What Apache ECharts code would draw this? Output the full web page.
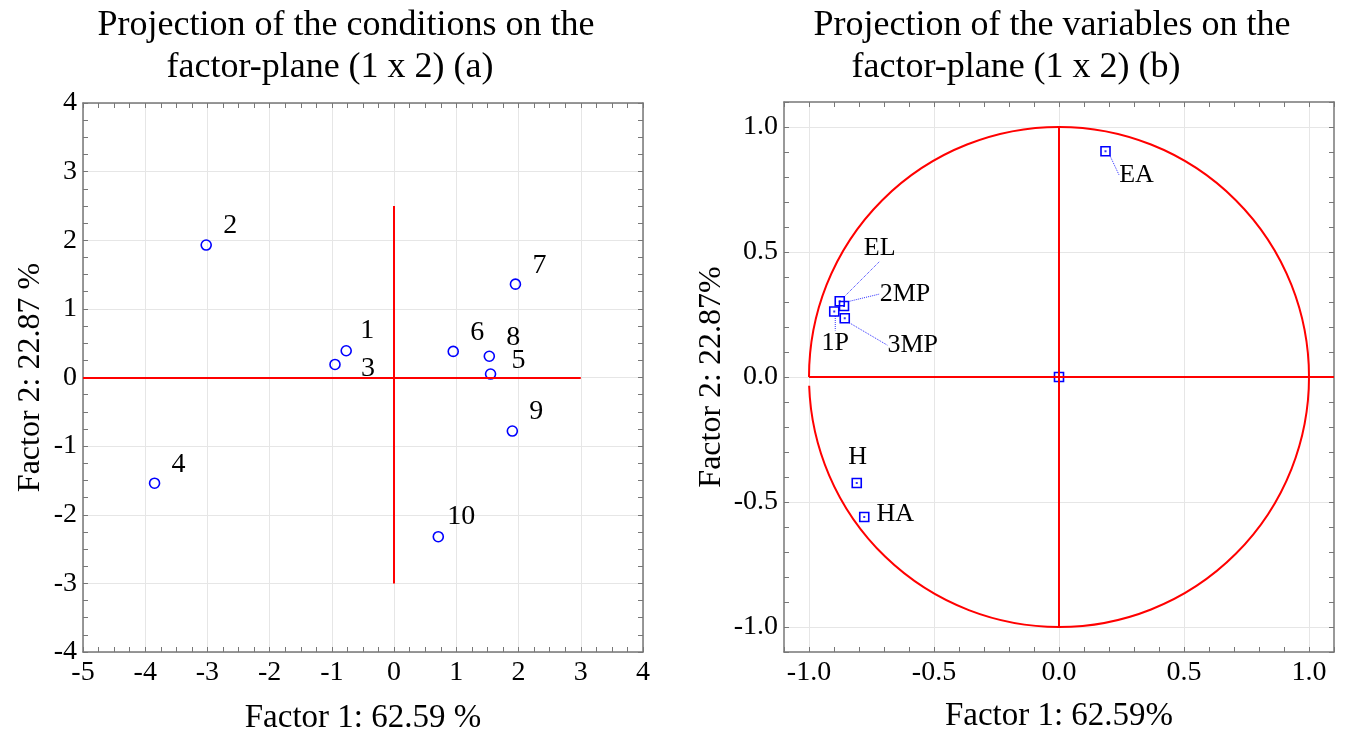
<!DOCTYPE html>
<html>
<head>
<meta charset="utf-8">
<title>Factor-plane projections</title>
<script src="https://cdn.jsdelivr.net/npm/echarts@6/dist/echarts.min.js"></script>
<style>
html, body { margin: 0; padding: 0; background: #fff; }
#chart { width: 1346px; height: 733px; }
</style>
</head>
<body>
<div id="chart"></div>
<script>
// (a) conditions on the factor plane
const conditionNames = ['1', '2', '3', '4', '5', '6', '7', '8', '9', '10'];
const conditionF1 = [-0.77, -3.02, -0.95, -3.85, 1.55, 0.95, 1.95, 1.53, 1.90, 0.71];
const conditionF2 = [0.39, 1.93, 0.19, -1.54, 0.05, 0.38, 1.36, 0.31, -0.78, -2.32];

// (b) variables on the factor plane (last one is the origin marker)
const variableNames = ['EA', 'EL', '2MP', '1P', '3MP', 'H', 'HA', ''];
const variableF1 = [0.186, -0.877, -0.860, -0.899, -0.857, -0.809, -0.779, 0];
const variableF2 = [0.903, 0.303, 0.284, 0.262, 0.235, -0.424, -0.560, 0];

// axis ranges
const leftX = [-5, 4];
const leftY = [-4, 4];
const rightX = [-1.1, 1.1];
const rightY = [-1.1, 1.1];

// red reference lines and correlation circle
const leftAxisLines = [[[-5, 0], [3, 0]], [[0, -3], [0, 2.5]]];
const rightAxisLines = [[[-1, 0], [1.1, 0]], [[0, -1], [0, 1]]];
const unitCircle = [[0, 0, 1]];

// label placement (px from the point)
const condLabelShift = { '1': [21, -20], '3': [33, 4], '5': [28, -13], '10': [23, -20] };
const varLabelShift = {
  EA: [31, 24], EL: [40, -53], '2MP': [61, -12], '1P': [1, 32],
  '3MP': [68, 27], H: [1, -26], HA: [31, -3]
};
const noLeader = ['H', 'HA', ''];

const serif = "'Liberation Serif', 'Times New Roman', serif";
const frameColor = '#777777';
const gridColor = '#e6e6e6';
const blue = '#0000ff';
const red = '#ff0000';
const clear = 'rgba(0,0,0,0)';

function frameAxis(gridIndex, range, interval, position, opts) {
  return Object.assign({
    type: 'value',
    gridIndex: gridIndex,
    position: position,
    min: range[0],
    max: range[1],
    interval: interval,
    axisLine: { show: true, onZero: false, lineStyle: { color: frameColor, width: 1.5 } },
    axisTick: { show: true, inside: true, length: 5, lineStyle: { color: frameColor, width: 1 } },
    axisLabel: { show: false },
    splitLine: { show: false }
  }, opts);
}

function labelEvery(step, digits) {
  return function (v) {
    const k = v / step;
    if (Math.abs(k - Math.round(k)) > 1e-6) return '';
    const r = Math.round(k) * step;
    return (Math.abs(r) < 1e-9 ? 0 : r).toFixed(digits);
  };
}

const tickLabel = (step, digits, margin) => ({
  show: true, margin: margin, color: '#000', fontSize: 28, fontFamily: serif,
  hideOverlap: false, formatter: labelEvery(step, digits)
});

const nameStyle = (size) => ({ color: '#000', fontSize: size, fontFamily: serif });

function crossLines(segs) {
  return {
    silent: true,
    symbol: ['none', 'none'],
    label: { show: false },
    lineStyle: { color: red, width: 2, type: 'solid', opacity: 1 },
    emphasis: { disabled: true },
    data: segs.map(s => [{ coord: s[0] }, { coord: s[1] }])
  };
}

const pointLabel = (size) => ({
  show: true, position: 'inside', formatter: '{b}', color: '#000000',
  fontSize: size, fontFamily: serif, textBorderWidth: 0, opacity: 1
});

const chart = echarts.init(document.getElementById('chart'));

chart.setOption({
  animation: false,
  backgroundColor: '#fff',
  graphic: [
    { type: 'text', x: 346, y: 26, style: { text: 'Projection of the conditions on the', align: 'center', verticalAlign: 'middle', font: '36px ' + serif, fill: '#000' } },
    { type: 'text', x: 330, y: 68, style: { text: 'factor-plane (1 x 2) (a)', align: 'center', verticalAlign: 'middle', font: '36px ' + serif, fill: '#000' } },
    { type: 'text', x: 1052, y: 26, style: { text: 'Projection of the variables on the', align: 'center', verticalAlign: 'middle', font: '36px ' + serif, fill: '#000' } },
    { type: 'text', x: 1016, y: 68, style: { text: 'factor-plane (1 x 2) (b)', align: 'center', verticalAlign: 'middle', font: '36px ' + serif, fill: '#000' } }
  ],
  grid: [
    { left: 83, top: 103, width: 560, height: 549, outerBoundsMode: 'none' },
    { left: 784, top: 102, width: 550, height: 550, outerBoundsMode: 'none' }
  ],
  xAxis: [
    frameAxis(0, leftX, 0.25, 'bottom', {
      axisLabel: tickLabel(1, 0, 7),
      splitLine: { show: true, lineStyle: { color: [gridColor, clear, clear, clear], width: 1 } },
      name: 'Factor 1: 62.59 %', nameLocation: 'middle', nameGap: 50, nameTextStyle: nameStyle(33)
    }),
    frameAxis(0, leftX, 0.25, 'top'),
    frameAxis(1, rightX, 0.1, 'bottom', {
      axisLabel: tickLabel(0.5, 1, 7),
      splitLine: { show: true, lineStyle: { color: [clear, gridColor, clear, clear, clear], width: 1 } },
      name: 'Factor 1: 62.59%', nameLocation: 'middle', nameGap: 48, nameTextStyle: nameStyle(33)
    }),
    frameAxis(1, rightX, 0.1, 'top')
  ],
  yAxis: [
    frameAxis(0, leftY, 0.25, 'left', {
      axisLabel: tickLabel(1, 0, 6),
      splitLine: { show: true, lineStyle: { color: [gridColor, clear, clear, clear], width: 1 } },
      name: 'Factor 2: 22.87 %', nameLocation: 'middle', nameGap: 36, nameTextStyle: nameStyle(32)
    }),
    frameAxis(0, leftY, 0.25, 'right'),
    frameAxis(1, rightY, 0.1, 'left', {
      axisLabel: tickLabel(0.5, 1, 6),
      splitLine: { show: true, lineStyle: { color: [clear, gridColor, clear, clear, clear], width: 1 } },
      name: 'Factor 2: 22.87%', nameLocation: 'middle', nameGap: 56, nameTextStyle: nameStyle(32)
    }),
    frameAxis(1, rightY, 0.1, 'right')
  ],
  series: [
    {
      type: 'scatter',
      xAxisIndex: 0, yAxisIndex: 0,
      z: 3,
      symbol: 'circle',
      symbolSize: 10,
      itemStyle: { color: clear, borderColor: blue, borderWidth: 1.6, opacity: 1 },
      label: pointLabel(28),
      emphasis: { disabled: true },
      data: conditionNames.map((n, i) => ({
        name: n,
        value: [conditionF1[i], conditionF2[i]],
        label: { offset: condLabelShift[n] || [24, -19] }
      })),
      markLine: crossLines(leftAxisLines)
    },
    {
      type: 'custom',
      xAxisIndex: 2, yAxisIndex: 2,
      z: 2,
      silent: true,
      encode: { x: 0, y: 1 },
      renderItem: function (params, api) {
        const c = api.coord([api.value(0), api.value(1)]);
        const e = api.coord([api.value(0) + api.value(2), api.value(1)]);
        const r = e[0] - c[0];
        return {
          type: 'arc',
          shape: { cx: c[0], cy: c[1], r: r, startAngle: Math.PI, endAngle: 3 * Math.PI - 0.035, clockwise: true },
          style: { stroke: red, lineWidth: 2, fill: null }
        };
      },
      data: unitCircle,
      markLine: crossLines(rightAxisLines)
    },
    {
      type: 'scatter',
      xAxisIndex: 2, yAxisIndex: 2,
      z: 3,
      symbol: 'rect',
      symbolSize: 9,
      itemStyle: { color: clear, borderColor: blue, borderWidth: 1.6, opacity: 1 },
      label: pointLabel(26),
      labelLine: { show: true, lineStyle: { color: '#3030ff', width: 1, type: 'dotted' } },
      labelLayout: function (p) {
        const s = varLabelShift[variableNames[p.dataIndex]] || [0, 0];
        return { dx: s[0], dy: s[1] };
      },
      emphasis: { disabled: true },
      data: variableNames.map((n, i) => ({
        name: n,
        value: [variableF1[i], variableF2[i]],
        label: { show: n !== '' },
        labelLine: { show: noLeader.indexOf(n) < 0 }
      }))
    },
    {
      type: 'scatter',
      xAxisIndex: 2, yAxisIndex: 2,
      z: 4,
      silent: true,
      symbol: 'rect',
      symbolSize: 2,
      itemStyle: { color: blue },
      data: variableNames.map((n, i) => [variableF1[i], variableF2[i]])
    }
  ]
});

window.addEventListener('resize', () => chart.resize());
</script>
</body>
</html>
